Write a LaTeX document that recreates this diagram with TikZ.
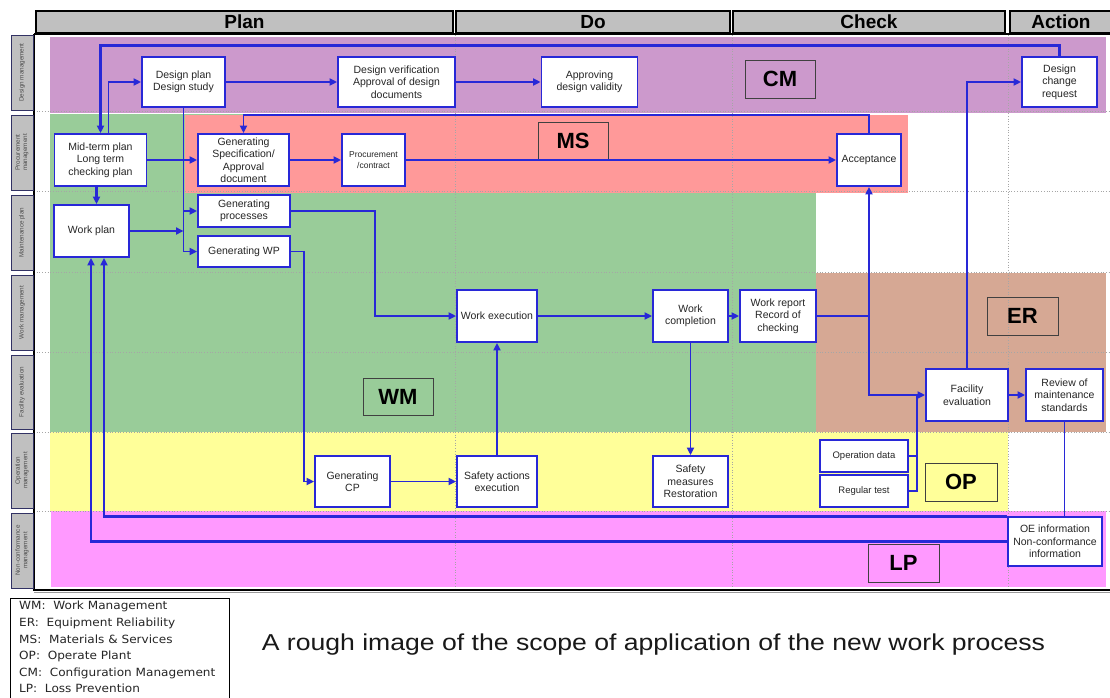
\documentclass[tikz,border=0pt]{standalone}
\usepackage{fontspec}
\setmainfont{Liberation Sans}
\newfontfamily\dejavu{DejaVu Sans}
\usetikzlibrary{arrows.meta}
\definecolor{bl}{RGB}{40,40,215}
\definecolor{cmcol}{RGB}{204,153,204}
\definecolor{wmcol}{RGB}{153,204,153}
\definecolor{mscol}{RGB}{255,153,153}
\definecolor{ercol}{RGB}{214,168,148}
\definecolor{opcol}{RGB}{255,255,153}
\definecolor{lpcol}{RGB}{255,153,255}
\definecolor{rowgray}{RGB}{192,192,192}
\definecolor{rowedge}{RGB}{50,50,100}
\tikzset{
  box/.style={draw=bl, line width=1.8pt, fill=white, inner sep=1pt, align=center,
    font=\fontsize{10.5}{12.5}\selectfont, text=black!85},
  ln/.style={draw=bl, line width=1.9pt},
  thk/.style={draw=bl, line width=2.8pt},
  arr/.style={-{Triangle[length=7.5pt,width=7pt]}},
  tag/.style={draw=black!75, line width=0.9pt, font=\fontsize{22}{22}\bfseries\selectfont, inner sep=0pt},
  phase/.style={draw=black, line width=1.5pt, fill=rowgray, font=\fontsize{19}{19}\bfseries\selectfont,
    inner sep=0pt, minimum height=22pt},
  rowlab/.style={draw=rowedge, line width=1pt, fill=rowgray, inner sep=0pt, align=center,
    font=\fontsize{6.3}{7.3}\selectfont, text=black!70, rotate=90, minimum height=22pt},
  gridln/.style={draw=black!35, dotted, line width=0.7pt}
}
\begin{document}
\begin{tikzpicture}[x=1pt,y=-1pt]
\useasboundingbox (0,0) rectangle (1110,697);
\fill[white] (0,0) rectangle (1110,697);
% coloured regions
\fill[cmcol] (50,37) rectangle (1106,113);
\fill[wmcol] (50,114) rectangle (816,432);
\fill[mscol] (185,115) rectangle (908,193);
\fill[ercol] (816,273) rectangle (1106,432);
\fill[opcol] (50,432) rectangle (1008,511);
\fill[lpcol] (51,511) rectangle (1106,587);
% grid
\foreach \yy in {111,191,272,352,432,511} \draw[gridln] (34,\yy) -- (1110,\yy);
\foreach \xx in {455,732,1008} \draw[gridln] (\xx,35) -- (\xx,590);
% frame
\draw[line width=1.8pt] (34,34) -- (34,590) -- (1110,590);
\draw[black!40, line width=1pt] (34,592.5) -- (1110,592.5);
\draw[line width=1.8pt] (34,34) -- (1110,34);
% phases
\node[phase, minimum width=417pt] (plan) at (244.5,22) {Plan};
\node[phase, minimum width=274pt] (do) at (593,22) {Do};
\node[phase, minimum width=272pt] (check) at (869,22) {Check};
\node[phase, minimum width=102pt] (action) at (1061,22) {Action};
% row labels
\node[rowlab, minimum width=75pt] (r1) at (22,72.5) {Design management};
\node[rowlab, minimum width=75pt] (r2) at (22,152.5) {Procurement\\management};
\node[rowlab, minimum width=75pt] (r3) at (22,232.5) {Maintenance plan};
\node[rowlab, minimum width=75pt] (r4) at (22,312.5) {Work management};
\node[rowlab, minimum width=74pt] (r5) at (22,392) {Facility evaluation};
\node[rowlab, minimum width=75pt] (r6) at (22,470.5) {Operation\\management};
\node[rowlab, minimum width=75pt] (r7) at (22,550.5) {Non-conformance\\management};
% area tags
\node[tag, minimum width=70pt, minimum height=38pt] (tcm) at (780,79) {CM};
\node[tag, minimum width=70pt, minimum height=37pt] (tms) at (573,140.5) {MS};
\node[tag, minimum width=70pt, minimum height=37pt] (twm) at (398,396.5) {WM};
\node[tag, minimum width=71pt, minimum height=38pt] (ter) at (1022.5,316) {ER};
\node[tag, minimum width=72pt, minimum height=38pt] (top) at (961,482) {OP};
\node[tag, minimum width=71pt, minimum height=38pt] (tlp) at (903.5,563) {LP};
% process boxes
\node[box, minimum width=83pt, minimum height=50pt] (dp) at (183.5,82) {Design plan\\Design study};
\node[box, minimum width=117pt, minimum height=50pt] (dv) at (396.5,82) {Design verification\\Approval of design\\documents};
\node[box, minimum width=96pt, minimum height=50pt] (adv) at (589.5,82) {Approving\\design validity};
\node[box, minimum width=75pt, minimum height=50pt] (dcr) at (1059.5,82) {Design\\change\\request};
\node[box, minimum width=92pt, minimum height=52pt] (mtp) at (100.5,160) {Mid-term plan\\Long term\\checking plan};
\node[box, minimum width=91pt, minimum height=52pt] (gs) at (243.5,160) {Generating\\Specification/\\Approval\\document};
\node[box, minimum width=63pt, minimum height=52pt, font=\fontsize{8.5}{11}\selectfont] (pc) at (373.5,160) {Procurement\\/contract};
\node[box, minimum width=64pt, minimum height=52pt] (acc) at (869,160) {Acceptance};
\node[box, minimum width=75pt, minimum height=52pt] (wp) at (91.5,231) {Work plan};
\node[box, minimum width=92pt, minimum height=32pt] (gp) at (244,211) {Generating\\processes};
\node[box, minimum width=92pt, minimum height=31pt] (gwp) at (244,251.5) {Generating WP};
\node[box, minimum width=80pt, minimum height=52pt] (we) at (497,316) {Work execution};
\node[box, minimum width=75pt, minimum height=52pt] (wc) at (690.5,316) {Work\\completion};
\node[box, minimum width=76pt, minimum height=52pt] (wr) at (778,316) {Work report\\Record of\\checking};
\node[box, minimum width=82pt, minimum height=52pt] (fe) at (967,395) {Facility\\evaluation};
\node[box, minimum width=77pt, minimum height=52pt] (rms) at (1064.5,395) {Review of\\maintenance\\standards};
\node[box, minimum width=75pt, minimum height=51pt] (gcp) at (352.5,481.5) {Generating\\CP};
\node[box, minimum width=80pt, minimum height=51pt] (sae) at (497,481.5) {Safety actions\\execution};
\node[box, minimum width=75pt, minimum height=51pt] (smr) at (690.5,481.5) {Safety\\measures\\Restoration};
\node[box, minimum width=88pt, minimum height=32pt, font=\fontsize{9.5}{11}\selectfont] (od) at (864,456) {Operation data};
\node[box, minimum width=88pt, minimum height=32pt, font=\fontsize{9.5}{11}\selectfont] (rt) at (864,491) {Regular test};
\node[box, minimum width=94pt, minimum height=49pt] (oe) at (1055,541.5) {OE information\\Non-conformance\\information};
% connectors
\draw[thk, arr] (dcr.north) -- ++(0,-11) -| (mtp.north);
\draw[ln, arr] ([xshift=8pt]mtp.north) |- (dp.west);
\draw[ln, arr] (dp) -- (dv);
\draw[ln, arr] (dv) -- (adv);
\draw[ln, arr] (dp.south) |- (gwp.west);
\draw[ln, arr] (dp.south |- gp.west) -- (gp.west);
\draw[ln, arr] (mtp) -- (gs);
\draw[ln, arr] (wp.east) -- (wp.east -| dp.south);
\draw[thk, arr] ([xshift=-4pt]mtp.south) -- ([xshift=-4pt]mtp.south |- wp.north);
\draw[ln, arr] (gs) -- (pc);
\draw[ln, arr] (pc) -- (acc);
\draw[ln, arr] (acc.north) -- ++(0,-18) -| (gs.north);
\draw[ln, arr] (gp.east) -- ++(84,0) |- (we.west);
\draw[ln, arr] (gwp.east) -- ++(13,0) |- (gcp.west);
\draw[ln, arr] (gcp) -- (sae);
\draw[ln, arr] (sae) -- (we);
\draw[ln, arr] (we) -- (wc);
\draw[ln, arr] (wc) -- (wr);
\draw[ln, arr] (wc.south) -- (wc.south |- smr.north);
\coordinate (j1) at (acc.south |- wr.east);
\draw[ln] (wr.east) -- (j1);
\draw[ln, arr] (j1) -- (acc.south);
\draw[ln, arr] (j1) |- (fe.west);
\coordinate (j2) at (917,395);
\draw[ln] (od.east) -| (j2);
\draw[ln] (rt.east) -| (j2);
\draw[ln, arr] (fe.north) |- (dcr.west);
\draw[ln, arr] (fe) -- (rms);
\draw[ln] (rms.south) -- (rms.south |- oe.north);
\draw[thk, arr] (oe.north west) -| ([xshift=12.5pt]wp.south);
\draw[thk, arr] (oe.west) -| ([xshift=-0.5pt]wp.south);
% legend and caption
\draw[line width=0.9pt] (10,598) rectangle (229,702);
\node[anchor=north west, align=left, inner sep=0pt, xscale=1.07, font=\dejavu\fontsize{11.3}{16.6}\selectfont, text=black!85] (leg) at (19,601)
  {WM:\ \ Work Management\\ER:\ \ Equipment Reliability\\MS:\ \ Materials \& Services\\OP:\ \ Operate Plant\\CM:\ \ Configuration Management\\LP:\ \ Loss Prevention};
\node[font=\fontsize{23}{23}\selectfont, xscale=1.156, text=black!90] (cap) at (653.5,645) {A rough image of the scope of application of the new work process};
\end{tikzpicture}
\end{document}
